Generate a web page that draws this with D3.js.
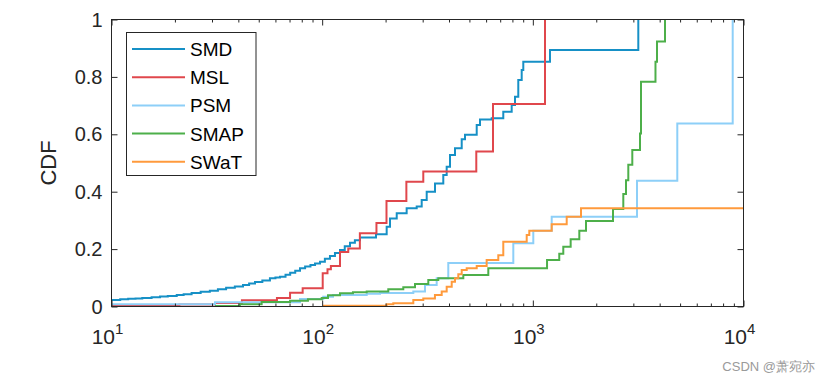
<!DOCTYPE html>
<html><head><meta charset="utf-8">
<script src="https://cdn.jsdelivr.net/npm/d3@7"></script>
<style>
html,body{margin:0;padding:0;background:#fff;}
svg{display:block;font-family:Arial,"Liberation Sans",sans-serif;}
</style></head>
<body><svg id="c" width="823" height="382"></svg>
<script>
// ---- data (x = value, y = CDF) ----
const seriesNames = ["SMD","MSL","PSM","SMAP","SWaT"];
const seriesColors = ["#1690C6","#E0474C","#8DCFF8","#4DAF4A","#FF9A3C"];
const smdX = [10,11,12,13,14,15.5,17,18.5,20.4,22,24,26.5,29.3,32,35,38.5,42.1,45,48,52,56.5,60,63.1,67,70.5,74.5,78.5,83,88,92.5,97.7,103,108.9,115,121.5,128,135.6,143,151.2,180.1,202.4,209.9,225.9,251.8,281,296.8,313.5,343.3,375.8,390,404.5,427,459.6,476.4,541.5,561.4,637.8,724,793.6,823,853,885.4,901,1206,3167];
const smdY = [0.023,0.025,0.027,0.028,0.03,0.032,0.035,0.037,0.04,0.043,0.047,0.051,0.055,0.06,0.065,0.07,0.075,0.08,0.085,0.091,0.098,0.101,0.104,0.111,0.118,0.125,0.133,0.139,0.145,0.15,0.156,0.166,0.176,0.186,0.197,0.21,0.222,0.231,0.24,0.252,0.278,0.307,0.325,0.342,0.348,0.371,0.4,0.429,0.458,0.487,0.528,0.551,0.583,0.598,0.632,0.652,0.656,0.679,0.702,0.731,0.789,0.824,0.853,0.894,1.0];
const mslX = [10,21,31,41.6,61,70.4,80.8,100.6,106,110,121.5,133,151,181,202,251,302,539,647,1142];
const mslY = [0.003,0.007,0.012,0.022,0.03,0.048,0.064,0.116,0.13,0.141,0.19,0.202,0.255,0.291,0.368,0.435,0.47,0.54,0.706,1.0];
const psmX = [10,31,78.5,101.2,112.6,162.7,188.2,270.8,307.6,349.6,396.9,807.8,1005,1229,3122,4850,8887];
const psmY = [0.008,0.015,0.026,0.034,0.04,0.044,0.047,0.052,0.075,0.098,0.152,0.22,0.264,0.313,0.438,0.638,1.0];
const smapX = [31,40.7,51.6,70.4,85.6,99.5,106.6,121.5,140,162.7,206,242.7,275.8,319,355.8,467.7,614.6,1168,1335,1395,1512,1662,1788,2402,2688,2768,2839,2966,3227,3262,3821,3884,4240];
const smapY = [0.002,0.008,0.016,0.02,0.025,0.03,0.039,0.046,0.05,0.052,0.06,0.067,0.078,0.092,0.098,0.11,0.133,0.162,0.184,0.208,0.234,0.264,0.298,0.34,0.392,0.44,0.494,0.545,0.603,0.783,0.853,0.923,1.0];
const swatX = [100.9,202.4,217.6,270.8,302,343,369.3,390,412,427,442.8,459.6,485.4,541.5,603.7,685.6,724,935.2,962,1229,1448,1693,10000];
const swatY = [0.003,0.008,0.011,0.023,0.028,0.04,0.052,0.069,0.086,0.098,0.112,0.127,0.133,0.141,0.162,0.179,0.226,0.249,0.264,0.287,0.313,0.342,0.342];
const xMajor = [10,100,1000,10000];
const xExp = ["1","2","3","4"];
const yTicks = [0,0.2,0.4,0.6,0.8,1];
const yLabels = ["0","0.2","0.4","0.6","0.8","1"];
const yTitle = "CDF";
const watermark = "CSDN @萧宛亦";

const allX = [smdX,mslX,psmX,smapX,swatX];
const allY = [smdY,mslY,psmY,smapY,swatY];

// ---- layout ----
const L=111.5, R=743.5, T=19.5, B=306.5;
const svg = d3.select("#c");
const x = d3.scaleLog().domain([10,10000]).range([L,R]);
const y = d3.scaleLinear().domain([0,1]).range([B,T]);

svg.append("defs").append("clipPath").attr("id","clip")
  .append("rect").attr("x",L).attr("y",T-1).attr("width",R-L).attr("height",B-T+1);

// lines
const line = d3.line().x(d=>x(d[0])).y(d=>y(d[1])).curve(d3.curveStepAfter);
const g = svg.append("g").attr("clip-path","url(#clip)");
allX.forEach((xs,i)=>{
  const pts = xs.map((v,j)=>[v,allY[i][j]]);
  g.append("path").attr("d",line(pts)).attr("fill","none")
   .attr("stroke",seriesColors[i]).attr("stroke-width",2);
});

// minor ticks
const minor=[];
for(let d=10; d<10000; d*=10){ for(let k=2;k<=9;k++) minor.push(d*k); }
const axCol="#262626";
function styleAx(sel){ sel.select(".domain").remove(); sel.selectAll("line").attr("stroke",axCol); sel.selectAll("text").remove(); }
svg.append("g").attr("transform",`translate(0,${B})`).call(d3.axisBottom(x).tickValues(xMajor).tickSize(-6)).call(styleAx);
svg.append("g").attr("transform",`translate(0,${B})`).call(d3.axisBottom(x).tickValues(minor).tickSize(-3)).call(styleAx);
svg.append("g").attr("transform",`translate(0,${T})`).call(d3.axisTop(x).tickValues(xMajor).tickSize(-6)).call(styleAx);
svg.append("g").attr("transform",`translate(0,${T})`).call(d3.axisTop(x).tickValues(minor).tickSize(-3)).call(styleAx);
svg.append("g").attr("transform",`translate(${L},0)`).call(d3.axisLeft(y).tickValues(yTicks).tickSize(-6)).call(styleAx);
svg.append("g").attr("transform",`translate(${R},0)`).call(d3.axisRight(y).tickValues(yTicks).tickSize(-6)).call(styleAx);

// box
svg.append("rect").attr("x",L).attr("y",T).attr("width",R-L).attr("height",B-T)
  .attr("fill","none").attr("stroke",axCol).attr("stroke-width",1);

// y labels
yTicks.forEach((v,i)=>{
  svg.append("text").attr("x",L-9).attr("y",y(v)+7).attr("text-anchor","end")
    .attr("font-size",20).attr("fill","#262626").text(yLabels[i]);
});
// x labels
xMajor.forEach((v,i)=>{
  const t = svg.append("text").attr("x",x(v)-4).attr("y",B+37).attr("text-anchor","middle")
    .attr("font-size",21).attr("fill","#262626");
  t.append("tspan").text("10");
  t.append("tspan").attr("dy",-10).attr("font-size",15).text(xExp[i]);
});
// y title
svg.append("text").attr("transform",`translate(56,${(T+B)/2}) rotate(-90)`)
  .attr("text-anchor","middle").attr("font-size",22).attr("fill","#262626").text(yTitle);

// legend
const lg = svg.append("g");
lg.append("rect").attr("x",126.5).attr("y",32.5).attr("width",129.5).attr("height",143)
  .attr("fill","#fff").attr("stroke",axCol).attr("stroke-width",1);
seriesNames.forEach((n,i)=>{
  const cy = 49 + i*28.2;
  lg.append("line").attr("x1",132).attr("x2",185).attr("y1",cy).attr("y2",cy)
    .attr("stroke",seriesColors[i]).attr("stroke-width",2);
  lg.append("text").attr("x",190).attr("y",cy+7).attr("font-size",19).attr("fill","#000").text(n);
});

// watermark
svg.append("text").attr("x",815).attr("y",371).attr("text-anchor","end")
  .attr("font-size",13).attr("fill","#9a9a9a").text(watermark);
</script></body></html>
